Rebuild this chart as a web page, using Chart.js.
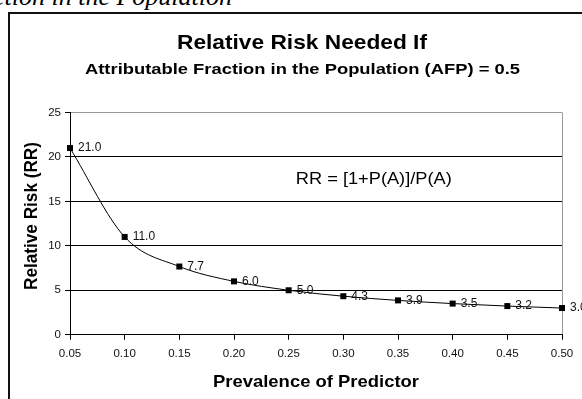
<!DOCTYPE html>
<html>
<head>
<meta charset="utf-8">
<script src="https://cdn.jsdelivr.net/npm/chart.js@4.4.0/dist/chart.umd.min.js"></script>
<style>
  html, body { margin: 0; padding: 0; background: #fff; }
  body { width: 582px; height: 399px; overflow: hidden; position: relative; }
  #caption { position: absolute; right: 350px; top: -16px; font: italic 26px "Liberation Serif", "Times New Roman", serif; line-height: 26px; white-space: nowrap; color: #000; }
  #frame { position: absolute; left: 8px; top: 12px; width: 600px; height: 420px; border-left: 2px solid #111; border-top: 2px solid #111; }
  #wrap { position: absolute; left: 0; top: 0; width: 582px; height: 399px; }
</style>
</head>
<body>
<div id="caption">Attributable Fraction in the Population</div>
<div id="frame"></div>
<div id="wrap"><canvas id="c" width="582" height="399"></canvas></div>
<script>
const categories = ['0.05', '0.10', '0.15', '0.20', '0.25', '0.30', '0.35', '0.40', '0.45', '0.50'];
const rrValues = [21.0, 11.0, 7.67, 6.0, 5.0, 4.33, 3.86, 3.5, 3.22, 3.0];
const pointLabels = ['21.0', '11.0', '7.7', '6.0', '5.0', '4.3', '3.9', '3.5', '3.2', '3.0'];
const yTicks = [0, 5, 10, 15, 20, 25];
const titleText = 'Relative Risk Needed If';
const subtitleText = 'Attributable Fraction in the Population (AFP) = 0.5';
const xTitle = 'Prevalence of Predictor';
const yTitle = 'Relative Risk (RR)';
const formulaText = 'RR = [1+P(A)]/P(A)';
const formulaAt = { x: 4.13, y: 17.5 };

const FONT = '"Liberation Sans", Arial, sans-serif';

function drawStretched(ctx, text, font, cx, baseY, targetW, rotate) {
  ctx.save();
  ctx.font = font;
  const w = ctx.measureText(text).width;
  const sx = targetW / w;
  ctx.translate(cx, baseY);
  if (rotate) ctx.rotate(-Math.PI / 2);
  ctx.scale(sx, 1);
  ctx.textAlign = 'center';
  ctx.textBaseline = 'alphabetic';
  ctx.fillStyle = '#000';
  ctx.fillText(text, 0, 0);
  ctx.restore();
}

const textPlugin = {
  id: 'texts',
  afterDraw(chart) {
    const ctx = chart.ctx;
    const ca = chart.chartArea;
    const midX = 302;
    drawStretched(ctx, titleText, 'bold 20.5px ' + FONT, midX, 48.5, 250, false);
    drawStretched(ctx, subtitleText, 'bold 15px ' + FONT, midX + 0.5, 74, 435, false);
    drawStretched(ctx, xTitle, 'bold 16.5px ' + FONT, (ca.left + ca.right) / 2, 387, 206, false);
    drawStretched(ctx, yTitle, 'bold 17.5px ' + FONT, 36.5, 216, 148, true);
  },
  afterDatasetsDraw(chart) {
    const ctx = chart.ctx;
    const meta = chart.getDatasetMeta(0);
    ctx.save();
    ctx.font = '12px ' + FONT;
    ctx.fillStyle = '#111';
    ctx.textAlign = 'left';
    ctx.textBaseline = 'middle';
    meta.data.forEach((pt, i) => {
      ctx.fillText(pointLabels[i], pt.x + 8, pt.y);
    });
    ctx.restore();
    const xs = chart.scales.x, ys = chart.scales.y;
    const fx = xs.getPixelForValue(formulaAt.x);
    const fy = ys.getPixelForValue(formulaAt.y);
    ctx.save();
    ctx.font = '16.5px ' + FONT;
    const w = ctx.measureText(formulaText).width;
    ctx.translate(fx, fy);
    ctx.scale(156 / w, 1);
    ctx.textAlign = 'left';
    ctx.textBaseline = 'middle';
    ctx.fillStyle = '#000';
    ctx.fillText(formulaText, 0, 0);
    ctx.restore();
  }
};

new Chart(document.getElementById('c'), {
  type: 'line',
  data: {
    labels: categories,
    datasets: [{
      data: rrValues,
      borderColor: '#000',
      borderWidth: 1,
      cubicInterpolationMode: 'monotone',
      pointStyle: 'rect',
      pointRadius: 4.25,
      pointBackgroundColor: '#000',
      pointBorderColor: '#000',
      pointBorderWidth: 0,
      fill: false,
      clip: false
    }]
  },
  options: {
    responsive: false,
    animation: false,
    devicePixelRatio: 1,
    layout: { padding: { left: 0, right: 20, top: 112.5, bottom: 0 } },
    plugins: {
      legend: { display: false },
      tooltip: { enabled: false },
      title: { display: false },
      subtitle: { display: false }
    },
    scales: {
      x: {
        type: 'category',
        offset: false,
        border: { color: '#000', width: 1 },
        grid: {
          drawOnChartArea: true,
          color: (c) => c.index === categories.length - 1 ? '#999' : 'rgba(0,0,0,0)',
          tickColor: '#000',
          tickLength: 5
        },
        ticks: { color: '#111', font: { family: FONT, size: 11.5 }, padding: 7, maxRotation: 0, autoSkip: false },
        title: { display: false },
        afterFit: (s) => { s.height = 399 - 334.7; }
      },
      y: {
        min: 0, max: 25,
        border: { color: '#000', width: 1 },
        grid: {
          color: (c) => c.tick && c.tick.value === 25 ? '#999' : '#000',
          tickColor: '#000',
          tickLength: 5
        },
        afterBuildTicks: (s) => { s.ticks = yTicks.map(v => ({ value: v })); },
        ticks: { color: '#111', font: { family: FONT, size: 11.5 }, padding: 4 },
        title: { display: false },
        afterFit: (s) => { s.width = 70; }
      }
    }
  },
  plugins: [textPlugin]
});
</script>
</body>
</html>
